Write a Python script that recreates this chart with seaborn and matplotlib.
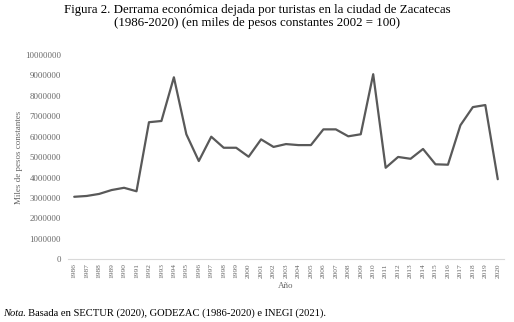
import matplotlib
matplotlib.use("Agg")
import matplotlib.pyplot as plt
import seaborn as sns
import pandas as pd

anios = list(range(1986, 2021))
derrama = [3060000, 3100000, 3200000, 3390000, 3500000, 3330000, 6710000, 6770000,
           8910000, 6120000, 4810000, 6000000, 5460000, 5460000, 5020000, 5870000,
           5500000, 5640000, 5590000, 5590000, 6360000, 6360000, 6020000, 6120000,
           9060000, 4480000, 5010000, 4920000, 5400000, 4650000, 4630000, 6560000,
           7450000, 7550000, 3920000]
yticks = list(range(0, 10000001, 1000000))

titulo = ("Figura 2. Derrama económica dejada por turistas en la ciudad de Zacatecas\n"
          "(1986-2020) (en miles de pesos constantes 2002 = 100)")
nota_it = "Nota"
nota = ". Basada en SECTUR (2020), GODEZAC (1986-2020) e INEGI (2021)."

sns.set_theme(style="white")
plt.rcParams["font.family"] = ["Liberation Serif", "DejaVu Serif"]

df = pd.DataFrame({"anio": anios, "derrama": derrama})

fig = plt.figure(figsize=(5.14, 3.22), dpi=100)
ax = fig.add_axes([68 / 514, 1 - 259.3 / 322, (504 - 68) / 514, (259.3 - 55) / 322])

sns.lineplot(data=df, x="anio", y="derrama", ax=ax, color="#595959", linewidth=1.6)

ax.set_xlim(anios[0] - 0.5, anios[-1] + 0.5)
ax.set_ylim(0, 10000000)
ax.set_xticks(anios)
ax.set_xticklabels([str(a) for a in anios], rotation=90, fontsize=5.3, color="#666666")
ax.set_yticks(yticks)
ax.set_yticklabels([str(v) for v in yticks], fontsize=6.3, color="#666666")
ax.tick_params(axis="x", length=0, pad=3)
ax.tick_params(axis="y", length=0, pad=5)

for side in ["top", "right", "left"]:
    ax.spines[side].set_visible(False)
ax.spines["bottom"].set_color("#d9d9d9")
ax.spines["bottom"].set_linewidth(0.8)

ax.set_xlabel("Año", fontsize=6.5, color="#666666")
ax.xaxis.set_label_coords(0.5, -(282 - 259.3) / 204.3)
ax.set_ylabel("Miles de pesos constantes", fontsize=6.5, color="#666666")
ax.yaxis.set_label_coords(-45 / 436, 0.5)

fig.text(0.5, 1 - 4 / 322, titulo, ha="center", va="top", fontsize=9.3,
         color="black", linespacing=1.15)

t1 = fig.text(3 / 514, 1 - 313 / 322, nota_it, ha="left", va="center",
              fontsize=7.6, style="italic", color="black")
fig.canvas.draw()
bb = t1.get_window_extent(renderer=fig.canvas.get_renderer())
fig.text(bb.x1 / fig.bbox.width, 1 - 313 / 322, nota, ha="left", va="center",
         fontsize=7.6, color="black")

fig.savefig("out.png", dpi=100)
